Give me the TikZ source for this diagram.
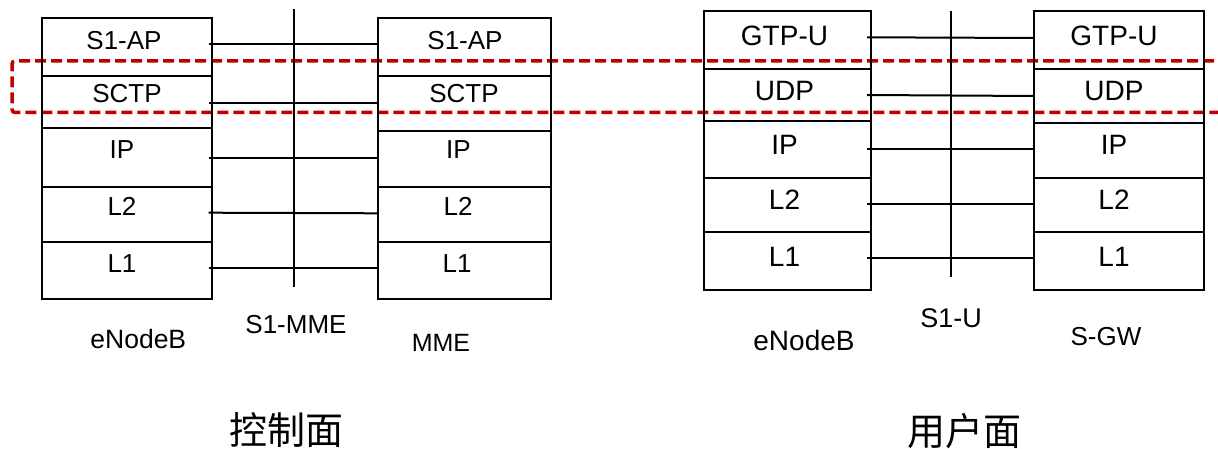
\documentclass[tikz,border=0pt]{standalone}
\usepackage{fontspec}
\setmainfont{Liberation Sans}
\newfontfamily\cjkfont{Noto Sans CJK SC}
\definecolor{markred}{RGB}{192,0,0}
\begin{document}
\begin{tikzpicture}[x=1pt,y=-1pt,
  layerbox/.style={draw=black, line width=2pt, inner sep=0pt, outer sep=0pt, anchor=north west},
  ctl/.style={anchor=base, inner sep=0pt, font=\fontsize{26}{30}\selectfont},
  usr/.style={anchor=base, inner sep=0pt, font=\fontsize{28}{32}\selectfont},
  tag/.style={anchor=base, inner sep=0pt, font=\fontsize{26}{30}\selectfont},
  plane/.style={anchor=base, inner sep=0pt, font=\cjkfont\fontsize{38}{44}\selectfont},
  link/.style={draw=black, line width=2pt},
  iface/.style={draw=black, line width=2pt},
  band/.style={draw=markred, line width=3.5pt, dash pattern=on 11pt off 5pt, rounded corners=3pt}]
\useasboundingbox (0,0) rectangle (1218,449);

% highlighted transport layer band (runs off the right edge)
\draw[band] (1230,61) -- (12,61) -- (12,112.5) -- (1230,112.5);

% ---------- control plane ----------
% eNodeB stack
\foreach \n/\t/\h/\lab/\lx/\ly in {1/17.7/58.3/S1-AP/124/49.5, 2/76/52.3/SCTP/127/102.5,
    3/128.3/58.4/IP/122/158.3, 4/186.7/55.6/L2/122/215, 5/242.3/56.7/L1/122/272.5}{
  \node[layerbox, minimum width=169.5pt, minimum height=\h pt] (ec\n) at (42,\t) {};
  \node[ctl] (ec\n t) at (\lx,\ly) {\lab};
}
% MME stack
\foreach \n/\t/\h/\lab/\lx/\ly in {1/17.7/58.3/S1-AP/465/49.5, 2/76/55/SCTP/464/102.5,
    3/131/56/IP/458.5/158.3, 4/187/55/L2/458/215, 5/242/57/L1/457/272.5}{
  \node[layerbox, minimum width=173pt, minimum height=\h pt] (mm\n) at (378,\t) {};
  \node[ctl] (mm\n t) at (\lx,\ly) {\lab};
}
% peer links
\foreach \n/\dl/\dr in {1/-2.55/-2.55, 2/0.55/-0.8, 3/0.2/-1.3, 4/-1.8/-1.2, 5/-2.65/-2.5}{
  \draw[link] ([shift={(-3,\dl)}]ec\n.east) -- ([shift={(0,\dr)}]mm\n.west);
}
% S1-MME interface
\draw[iface] (294,9.3) -- (294,287);

% ---------- user plane ----------
% eNodeB stack
\foreach \n/\t/\h/\lab/\ly in {1/11/58/GTP-U/45.5, 2/69/51.7/UDP/100.5,
    3/120.7/57/IP/155, 4/177.7/54.6/L2/209.3, 5/232.3/57.4/L1/266.7}{
  \node[layerbox, minimum width=167pt, minimum height=\h pt] (eu\n) at (704,\t) {};
  \node[usr] (eu\n t) at (784.5,\ly) {\lab};
}
% S-GW stack
\foreach \n/\t/\h/\lab/\ly in {1/11/58/GTP-U/45.5, 2/69/54/UDP/100.5,
    3/123/55/IP/155, 4/178/54/L2/209.3, 5/232/58/L1/266.7}{
  \node[layerbox, minimum width=170pt, minimum height=\h pt] (sg\n) at (1034,\t) {};
  \node[usr] (sg\n t) at (1114,\ly) {\lab};
}
% peer links
\foreach \n/\dl/\dr in {1/-2.7/-2, 2/0.15/0, 3/-0.2/-1.5, 4/-1.3/-1.3, 5/-2.7/-2.7}{
  \draw[link] ([shift={(-4,\dl)}]eu\n.east) -- ([shift={(0,\dr)}]sg\n.west);
}
% S1-U interface
\draw[iface] (950.8,11) -- (950.8,277);

% ---------- captions ----------
\node[tag, font=\fontsize{26.5}{30}\selectfont] (encap) at (138.3,348) {eNodeB};
\node[tag] (s1mme) at (296,333) {S1-MME};
\node[tag, font=\fontsize{25}{29}\selectfont] (mmecap) at (441,351) {MME};
\node[tag, font=\fontsize{28}{32}\selectfont] (eucap) at (804,350) {eNodeB};
\node[tag, font=\fontsize{27}{31}\selectfont] (s1u) at (951,327) {S1-U};
\node[tag] (sgwcap) at (1106,345) {S-GW};
\node[plane] (cplane) at (286,444.5) {控制面};
\node[plane] (uplane) at (964,445) {用户面};
\end{tikzpicture}
\end{document}
